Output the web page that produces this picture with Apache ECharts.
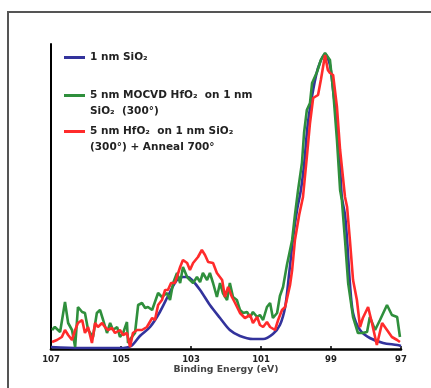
<!DOCTYPE html>
<html>
<head>
<meta charset="utf-8">
<script src="https://cdn.jsdelivr.net/npm/echarts@6/dist/echarts.min.js"></script>
<style>
html,body{margin:0;padding:0;background:#fff;}
#chart{width:431px;height:388px;}
</style>
</head>
<body>
<div id="chart"></div>
<script>
// ---- Data (binding energy in eV, intensity in arbitrary units) ----
const xTicks = [107, 105, 103, 101, 99, 97];

const seriesNames = [
  '1 nm SiO₂',
  '5 nm MOCVD HfO₂ on 1 nm SiO₂ (300°)',
  '5 nm HfO₂ on 1 nm SiO₂ (300°) + Anneal 700°'
];
const legendLine1 = ['1 nm SiO₂', '5 nm MOCVD HfO₂  on 1 nm', '5 nm HfO₂  on 1 nm SiO₂'];
const legendLine2 = ['', 'SiO₂  (300°)', '(300°) + Anneal 700°'];

const blueE = [107.00,106.17,105.51,105.03,104.71,104.46,104.17,103.89,103.60,103.40,103.23,103.09,102.97,102.74,102.46,102.17,101.89,101.60,101.23,100.94,100.66,100.46,100.31,100.20,100.09,99.97,99.86,99.77,99.66,99.51,99.37,99.17,99.03,98.94,98.83,98.74,98.69,98.60,98.54,98.46,98.37,98.17,97.89,97.51,97.11,97.00];
const blueI = [2,1,1,1,3,13,22,37,57,69,72,72,69,59,44,31,19,13,10,10,15,24,42,74,109,139,159,184,226,259,281,295,284,259,226,182,152,134,109,66,36,19,11,6,4,3];

const greenE = [106.97,106.89,106.74,106.60,106.51,106.40,106.31,106.23,106.11,106.03,105.94,105.80,105.69,105.60,105.51,105.40,105.31,105.23,105.11,105.03,104.94,104.83,104.80,104.69,104.60,104.51,104.40,104.31,104.23,104.11,104.03,103.94,103.83,103.69,103.60,103.51,103.40,103.31,103.23,103.11,103.03,102.94,102.83,102.74,102.66,102.54,102.46,102.37,102.26,102.17,102.09,101.97,101.89,101.80,101.69,101.60,101.51,101.40,101.31,101.23,101.11,101.03,100.94,100.83,100.74,100.66,100.54,100.46,100.37,100.26,100.17,100.11,100.03,99.94,99.83,99.77,99.69,99.60,99.54,99.40,99.29,99.17,99.03,98.94,98.83,98.74,98.69,98.60,98.51,98.37,98.23,98.11,97.97,97.89,97.74,97.60,97.40,97.26,97.11,97.03];
const greenI = [19,22,17,47,26,19,2,42,37,36,19,12,36,39,29,16,26,19,22,12,16,27,6,12,16,44,46,41,42,39,47,56,52,56,49,66,76,66,82,72,69,66,72,67,76,69,76,66,52,66,56,49,66,52,49,39,36,37,32,37,32,34,29,42,46,31,36,53,62,84,99,109,134,159,186,216,239,246,266,277,289,296,289,259,209,159,149,109,66,32,16,16,17,32,19,29,44,34,32,12];

const redE = [106.97,106.83,106.69,106.60,106.51,106.40,106.31,106.23,106.11,106.03,105.94,105.83,105.74,105.66,105.54,105.46,105.37,105.26,105.17,105.03,104.94,104.83,104.74,104.66,104.54,104.40,104.26,104.11,104.03,103.94,103.83,103.74,103.66,103.57,103.46,103.31,103.23,103.11,103.03,102.94,102.80,102.69,102.60,102.51,102.37,102.26,102.11,102.03,101.94,101.83,101.74,101.60,101.46,101.31,101.23,101.11,101.03,100.94,100.83,100.74,100.60,100.51,100.40,100.31,100.26,100.17,100.11,100.03,99.91,99.80,99.69,99.60,99.51,99.37,99.29,99.17,99.09,99.03,98.94,98.83,98.74,98.60,98.54,98.46,98.37,98.26,98.17,98.09,97.94,97.83,97.69,97.54,97.40,97.26,97.11,97.03];
const redI = [7,9,12,19,14,9,19,26,29,16,22,6,26,22,26,22,19,21,16,19,14,16,2,16,19,19,22,31,29,44,49,59,59,66,66,82,89,86,79,86,92,99,94,87,86,76,69,52,62,52,46,36,31,34,26,32,24,22,27,22,19,29,39,42,42,64,79,109,134,152,192,226,251,254,269,294,279,276,274,242,199,152,142,109,69,49,22,31,42,26,4,26,19,12,9,7];

function zip(xs, ys) { return xs.map((x, i) => [x, ys[i]]); }

const colors = ['#33339c', '#2f8f3c', '#ff2b2b'];
const FONT = 'DejaVu Sans';

const chart = echarts.init(document.getElementById('chart'), null, {renderer: 'canvas'});

const legendTops = [52, 90, 126];
const legends = seriesNames.map((n, i) => ({
  data: [n],
  left: 64,
  top: legendTops[i],
  padding: 0,
  icon: 'rect',
  itemWidth: 21,
  itemHeight: 3,
  selectedMode: false,
  formatter: () => legendLine1[i],
  textStyle: {fontFamily: FONT, fontWeight: 'bold', fontSize: 10.5, color: '#222'}
}));

const lineSeries = [blueE, greenE, redE].map((xs, i) => ({
  name: seriesNames[i],
  type: 'line',
  data: zip(xs, [blueI, greenI, redI][i]),
  showSymbol: false,
  smooth: i === 0 ? 0.3 : false,
  lineStyle: {color: colors[i], width: 2.6},
  itemStyle: {color: colors[i]},
  z: 2 + i
}));

chart.setOption({
  backgroundColor: '#ffffff',
  animation: false,
  grid: {left: 51, right: 30, top: 44, bottom: 39, containLabel: false, outerBoundsMode: 'none'},
  xAxis: {
    type: 'value',
    min: 97,
    max: 107,
    inverse: true,
    name: 'Binding Energy (eV)',
    nameLocation: 'middle',
    nameGap: 16,
    nameMoveOverlap: false,
    nameTextStyle: {fontFamily: FONT, fontWeight: 'bold', fontSize: 9.3, color: '#444'},
    axisLine: {show: true, lineStyle: {color: '#000', width: 2.6}},
    axisTick: {show: true, inside: true, length: 3, customValues: xTicks, lineStyle: {color: '#000', width: 1.5}},
    axisLabel: {customValues: xTicks, margin: 6, fontFamily: FONT, fontWeight: 'bold', fontSize: 8.5, color: '#222'},
    splitLine: {show: false}
  },
  yAxis: {
    type: 'value',
    min: 0,
    max: 305,
    axisLine: {show: true, lineStyle: {color: '#000', width: 2}},
    axisTick: {show: false},
    axisLabel: {show: false},
    splitLine: {show: false}
  },
  legend: legends,
  graphic: [
    {type: 'rect', silent: true, z: -10, shape: {x: 8, y: 12, width: 460, height: 420}, style: {fill: 'none', stroke: '#555', lineWidth: 2}},
    {type: 'text', silent: true, x: 90, y: 106, style: {text: legendLine2[1], fontFamily: FONT, fontWeight: 'bold', fontSize: 10.5, fill: '#222'}},
    {type: 'text', silent: true, x: 90, y: 142, style: {text: legendLine2[2], fontFamily: FONT, fontWeight: 'bold', fontSize: 10.5, fill: '#222'}}
  ],
  series: lineSeries
});
</script>
</body>
</html>
